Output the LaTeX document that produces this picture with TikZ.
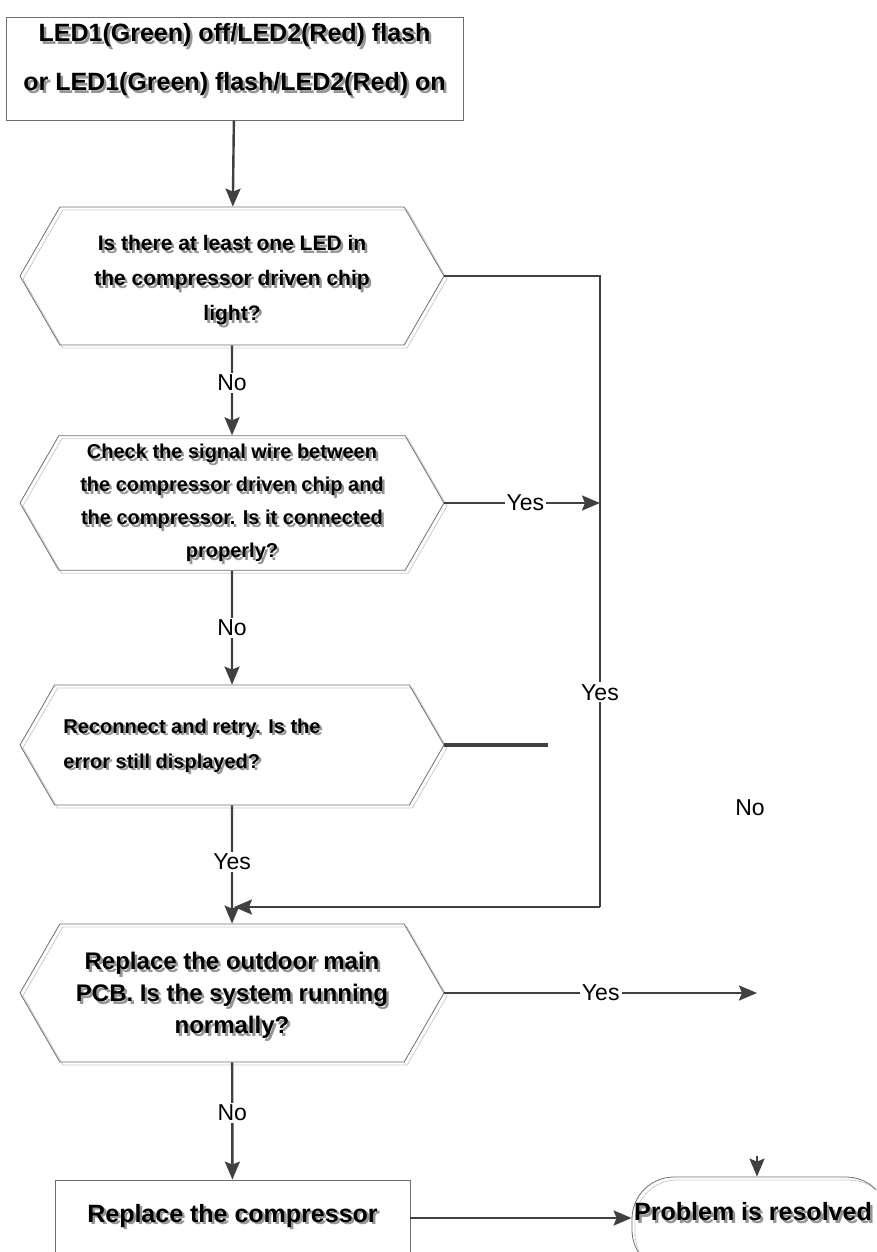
\documentclass[tikz,border=0pt]{standalone}
\usepackage{fontspec}
\setmainfont{Liberation Sans}
\usetikzlibrary{arrows.meta, shapes.symbols, shadows}
\definecolor{linegray}{RGB}{64,64,64}
\definecolor{framegray}{RGB}{110,110,110}
\definecolor{shadowgray}{RGB}{205,205,205}
\definecolor{textshade}{RGB}{150,150,150}
% lines of a box text with a grey copy behind them
\newcommand{\shadowed}[2][c]{\leavevmode\rlap{\kern2.5pt\raisebox{-2.5pt}{\color{textshade}\begin{tabular}[b]{@{}#1@{}}#2\end{tabular}}}\begin{tabular}[b]{@{}#1@{}}#2\end{tabular}}
\tikzset{
  basebox/.style={draw=framegray, line width=0.8pt, align=center, inner sep=0pt},
  boxshadow/.style={drop shadow={shadow xshift=3pt, shadow yshift=-3pt, fill=none, draw=shadowgray, opacity=1}},
  startbox/.style={basebox, rectangle, minimum width=457pt, minimum height=103pt},
  querybox/.style={basebox, boxshadow, signal, signal to=west and east, signal pointer angle=120, minimum width=424pt},
  actionbox/.style={basebox, rectangle, minimum width=355pt, minimum height=76pt},
  endbox/.style={basebox, boxshadow, rectangle, rounded corners=42pt, minimum width=256pt, minimum height=95pt},
  arrow/.style={-{Stealth[length=18pt,width=15pt,inset=3pt]}, line width=2.4pt, color=linegray},
  link/.style={line width=2.4pt, color=linegray},
  heavylink/.style={line width=4pt, color=linegray},
  lbl/.style={fill=white, text=black, inner sep=2pt, font=\fontsize{23}{26}\selectfont}
}
\begin{document}
\begin{tikzpicture}[x=1pt, y=-1pt]
  \useasboundingbox (0,0) rectangle (876,1252);
  \clip (0,0) rectangle (876,1252);
  % boxes
  \node[startbox, text depth=25pt, font=\bfseries\fontsize{25}{30}\selectfont] (start) at (234.5,68.5)
    {\shadowed{LED1(Green) off/LED2(Red) flash\\[19pt]or LED1(Green) flash/LED2(Red) on}};
  \node[querybox, minimum height=138pt, text height=102pt, font=\bfseries\fontsize{21}{35}\selectfont] (ledlit) at (232,276)
    {\shadowed{Is there at least one LED in\\the compressor driven chip\\light?}};
  \node[querybox, minimum height=128pt, font=\bfseries\fontsize{20}{33}\selectfont] (wire) at (232,503)
    {\shadowed{Check the signal wire between\\the compressor driven chip and\\the compressor. Is it connected\\properly?}};
  \node[querybox, minimum height=120pt, font=\bfseries\fontsize{20}{35}\selectfont] (retry) at (232,745)
    {\shadowed[l]{Reconnect and retry. Is the\\error still displayed?}\hspace{80pt}};
  \node[querybox, minimum height=138pt, text height=94pt, font=\bfseries\fontsize{24}{32}\selectfont] (pcb) at (232,993)
    {\shadowed{Replace the outdoor main\\PCB. Is the system running\\normally?}};
  \node[actionbox, font=\bfseries\fontsize{25}{28}\selectfont] (comp) at (232.5,1218)
    {\shadowed{Replace the compressor}};
  \node[endbox, text depth=27pt, font=\bfseries\fontsize{25}{28}\selectfont] (done) at (760,1224.5)
    {\shadowed{Problem is resolved}\hspace{14pt}};
  % helper points
  \coordinate (ledturn) at (600,276);
  \coordinate (ledback) at (600,907);
  \coordinate (merge) at (234,907);
  \coordinate (wirein) at (600,503);
  \coordinate (retryend) at (548,745);
  \coordinate (pcbend) at (757,993);
  \coordinate (doneabove) at (757,1156);
  % connectors
  \draw[arrow] (start) -- (ledlit);
  \draw[arrow] (ledlit) -- node[lbl, pos=0.42] {No} (wire);
  \draw[arrow] (wire) -- node[lbl, pos=0.5] {No} (retry);
  \draw[arrow] (retry) -- node[lbl, pos=0.48] {Yes} (pcb);
  \draw[arrow] (pcb) -- node[lbl, pos=0.43] {No} (comp);
  \draw[link] (ledlit.east) -- (ledturn) -- node[lbl, pos=0.66] {Yes} (ledback);
  \draw[arrow] (ledback) -- (merge);
  \draw[arrow] (wire.east) -- node[lbl, pos=0.52] {Yes} (wirein);
  \draw[heavylink] (retry.east) -- (retryend);
  \draw[arrow] (pcb.east) -- node[lbl, pos=0.5] {Yes} (pcbend);
  \draw[arrow] (doneabove) -- (done.north -| doneabove);
  \draw[arrow] (comp.east) -- (done.west |- comp.east);
  \node[lbl, fill=none] (nolabel) at (750,808) {No};
\end{tikzpicture}
\end{document}
